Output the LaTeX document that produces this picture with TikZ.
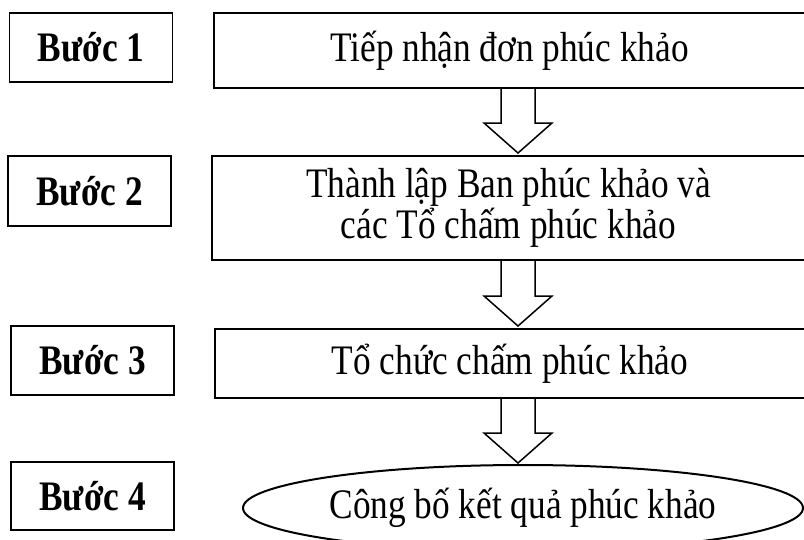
\documentclass[tikz,border=0pt]{standalone}
\usepackage{fontspec}
\setmainfont{Liberation Serif}[FakeStretch=0.84]
\usetikzlibrary{shapes.geometric,calc}
\newcommand\blockarrow[2]{%
  \draw[hollow] let \p1=(#1), \p2=(#2) in
    (\x1-17pt,\y1) -- (\x1-17pt,\y2+30pt) -- (\x1-34pt,\y2+30pt) --
    (\x2,\y2) -- (\x1+34pt,\y2+30pt) -- (\x1+17pt,\y2+30pt) -- (\x1+17pt,\y1);}
\begin{document}
\begin{tikzpicture}[x=1pt,y=-1pt,
  stepbox/.style={draw, line width=1.4pt, inner sep=0pt,
    minimum width=163pt, minimum height=69pt,
    font=\fontsize{42}{38}\selectfont\bfseries},
  mainbox/.style={draw, line width=2.2pt, inner sep=0pt, align=center,
    font=\fontsize{42}{38}\selectfont},
  endshape/.style={draw, ellipse, line width=2pt, inner sep=0pt,
    minimum width=560pt, minimum height=86pt,
    font=\fontsize{42}{38}\selectfont},
  hollow/.style={draw, line width=1.5pt, fill=white, line join=miter}]
\useasboundingbox (0,0) rectangle (804,539);
\fill[white] (0,0) rectangle (804,539);

% step labels
\node[stepbox] (b1) at (91,47.5) {Bước 1};
\node[stepbox, minimum height=70pt] (b2) at (89.5,191) {Bước 2};
\node[stepbox] (b3) at (92.5,360.5) {Bước 3};
\node[stepbox, minimum height=68pt] (b4) at (92.5,496) {Bước 4};

% main boxes
\node[mainbox, minimum width=591pt, minimum height=75pt] (m1) at (509.5,50.5) {Tiếp nhận đơn phúc khảo};
\node[mainbox, minimum width=593pt, minimum height=104pt] (m2) at (508.5,208) {Thành lập Ban phúc khảo và\\các Tổ chấm phúc khảo};
\node[mainbox, minimum width=590pt, minimum height=69pt] (m3) at (510,363.5) {Tổ chức chấm phúc khảo};
\node[endshape] (m4) at (523,508) {Công bố kết quả phúc khảo};

% arrow tips
\coordinate (t1) at (518,153);
\coordinate (t2) at (518,326);
\coordinate (t3) at (518,463);

\blockarrow{m1.south -| t1}{t1}
\blockarrow{m2.south -| t2}{t2}
\blockarrow{m3.south -| t3}{t3}
\end{tikzpicture}
\end{document}
